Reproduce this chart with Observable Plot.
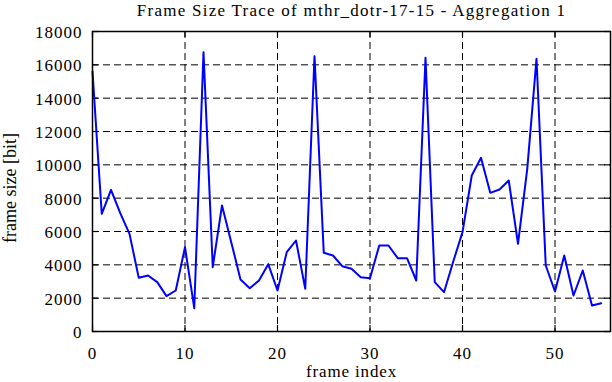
<!DOCTYPE html>
<html>
<head>
<meta charset="utf-8">
<script src="https://cdn.jsdelivr.net/npm/d3@7"></script>
<script src="https://cdn.jsdelivr.net/npm/@observablehq/plot@0.6"></script>
<style>
  html, body { margin: 0; padding: 0; background: #fff; }
  #chart svg { display: block; }
  #chart svg text { font-family: 'Liberation Serif', 'Times New Roman', serif; }
  #chart .ls1 text { letter-spacing: 1px; }
  #chart .ls09 text { letter-spacing: 0.85px; }
  #chart .ls13 text { letter-spacing: 1.25px; }
</style>
</head>
<body>
<div id="chart"></div>
<script>
const title = "Frame Size Trace of mthr_dotr-17-15 - Aggregation 1";
const xLabel = "frame index";
const yLabel = "frame size [bit]";
const xTicks = [0, 10, 20, 30, 40, 50];
const yTicks = [0, 2000, 4000, 6000, 8000, 10000, 12000, 14000, 16000, 18000];
const frameSizes = [
  15600, 7060, 8500, 7100, 5860, 3220, 3360, 2960, 2120, 2460,
  5060, 1400, 16760, 3860, 7560, 5360, 3120, 2600, 3060, 4040,
  2460, 4760, 5460, 2560, 16520, 4720, 4560, 3920, 3760, 3260,
  3200, 5160, 5160, 4400, 4400, 3060, 16420, 2960, 2360, 4200,
  5960, 9360, 10420, 8320, 8520, 9060, 5260, 9760, 16360, 3960,
  2400, 4560, 2160, 3660, 1560, 1700
];
const data = frameSizes.map((v, i) => ({frame: i, size: v}));

const W = 612, H = 382;
const mL = 92, mR = 2, mT = 31, mB = 51;
const innerW = W - mL - mR, innerH = H - mT - mB;
const tickLen = 6;
const font = "'Liberation Serif', 'Times New Roman', serif";
const fs = 17;

const chart = Plot.plot({
  width: W,
  height: H,
  marginLeft: mL,
  marginRight: mR,
  marginTop: mT,
  marginBottom: mB,
  style: {fontFamily: font, fontSize: fs + "px", color: "#000", background: "#fff"},
  x: {domain: [0, 56], axis: null},
  y: {domain: [0, 18000], axis: null},
  marks: [
    Plot.gridX(xTicks.filter(d => d > 0), {stroke: "#000", strokeOpacity: 1, strokeDasharray: "7,4", strokeWidth: 1}),
    Plot.gridY(yTicks.filter(d => d > 0 && d < 18000), {stroke: "#000", strokeOpacity: 1, strokeDasharray: "7,4", strokeWidth: 1}),
    Plot.tickX(xTicks, {x: d => d, insetTop: innerH - tickLen, stroke: "#000", strokeWidth: 1.2}),
    Plot.tickX(xTicks, {x: d => d, insetBottom: innerH - tickLen, stroke: "#000", strokeWidth: 1.2}),
    Plot.tickY(yTicks, {y: d => d, insetRight: innerW - tickLen, stroke: "#000", strokeWidth: 1.2}),
    Plot.tickY(yTicks, {y: d => d, insetLeft: innerW - tickLen, stroke: "#000", strokeWidth: 1.2}),
    // x tick labels
    Plot.text(xTicks, {x: d => d, text: d => String(d), frameAnchor: "bottom", lineAnchor: "top", dy: 15,
      fontSize: fs, fill: "#000", className: "ls1"}),
    // y tick labels
    Plot.text(yTicks, {y: d => d, text: d => String(d), frameAnchor: "left", textAnchor: "end", dx: -10, dy: 1,
      fontSize: fs, fill: "#000", className: "ls1"}),
    Plot.line(data, {x: "frame", y: "size", stroke: "#0000ff", strokeWidth: 2}),
    Plot.frame({stroke: "#000", strokeWidth: 1.5}),
    Plot.text([title], {frameAnchor: "top", lineAnchor: "top", dy: -27.5, fontSize: fs, fill: "#000", className: "ls13"}),
    Plot.text([xLabel], {frameAnchor: "bottom", lineAnchor: "top", dy: 33, fontSize: fs, fill: "#000", className: "ls09"}),
    Plot.text([yLabel], {frameAnchor: "left", textAnchor: "middle", dx: -mL + 10, dy: 6.5, rotate: -90, fontSize: 18, fill: "#000"})
  ]
});
document.getElementById("chart").appendChild(chart);
</script>
</body>
</html>
